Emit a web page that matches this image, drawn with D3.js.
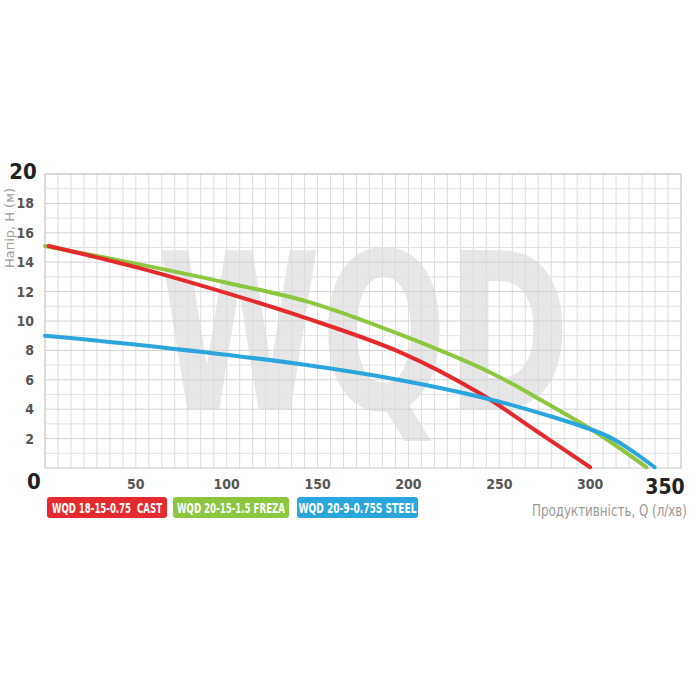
<!DOCTYPE html>
<html><head><meta charset="utf-8">
<script src="https://cdn.jsdelivr.net/npm/d3@7"></script>
<style>body{margin:0;background:#fff}svg{display:block}</style>
</head><body>
<svg id="c" width="700" height="700"></svg>
<script>
const xTicks = [50, 100, 150, 200, 250, 300];
const yTicks = [2, 4, 6, 8, 10, 12, 14, 16, 18];
const seriesNames = ["WQD 18-15-0.75  CAST", "WQD 20-15-1.5 FREZA", "WQD 20-9-0.75S STEEL"];
const seriesColors = ["#e42a2c", "#8dc63f", "#2aa6dc"];
const redQ = [2, 52, 100, 140, 195, 239, 270, 300];
const redH = [15.1, 13.6, 11.9, 10.35, 7.9, 5.1, 2.55, 0.05];
const greenQ = [0, 52, 100, 145, 195, 245, 276, 304, 331];
const greenH = [15.1, 13.85, 12.6, 11.3, 9.1, 6.5, 4.4, 2.36, 0.05];
const blueQ = [0, 52, 140, 195, 239, 276, 309, 322, 335.5];
const blueH = [9.0, 8.37, 7.07, 5.99, 4.85, 3.6, 2.2, 1.25, 0.05];

const svg = d3.select("#c");
const L = 45, R = 681, T = 174, B = 468;
const x = d3.scaleLinear().domain([0, 350]).range([L, R]);
const y = d3.scaleLinear().domain([0, 20]).range([B, T]);
const cond = "'DejaVu Sans Condensed','Liberation Sans Narrow',sans-serif";

// watermark
svg.append("text").attr("x", 157).attr("y", 409)
  .attr("font-family", "'DejaVu Sans Condensed','DejaVu Sans',sans-serif").attr("font-weight", "bold")
  .attr("font-size", 218).attr("fill", "#e7e7e7")
  .attr("textLength", 413).attr("lengthAdjust", "spacingAndGlyphs")
  .text("WQD");

// grid
const g = svg.append("g");
const vLines = d3.range(0, 50).map(i => i * 50 / 7);
g.selectAll("line.v").data(vLines).join("line")
  .attr("x1", d => x(d)).attr("x2", d => x(d)).attr("y1", T).attr("y2", B)
  .attr("stroke", "#dcdcdc").attr("stroke-width", 1);
g.selectAll("line.h").data(d3.range(1, 21)).join("line")
  .attr("x1", L).attr("x2", R).attr("y1", d => y(d)).attr("y2", d => y(d))
  .attr("stroke", d => d % 2 === 0 ? "#d2d2d2" : "#e2e2e2").attr("stroke-width", 1);
g.append("rect").attr("x", L).attr("y", T).attr("width", R - L).attr("height", B - T)
  .attr("fill", "none").attr("stroke", "#d0d0d0").attr("stroke-width", 1.2);

// axes labels
svg.selectAll("text.yt").data(yTicks).join("text")
  .attr("x", 34).attr("y", d => y(d)).attr("dy", "0.36em").attr("text-anchor", "end")
  .attr("font-family", cond).attr("font-weight", "bold").attr("font-size", 14).attr("fill", "#555")
  .text(d => d);
svg.selectAll("text.xt").data(xTicks).join("text")
  .attr("x", d => x(d)).attr("y", 489).attr("text-anchor", "middle")
  .attr("font-family", cond).attr("font-weight", "bold").attr("font-size", 14).attr("fill", "#555")
  .text(d => d);
svg.append("text").attr("x", 23).attr("y", 179).attr("text-anchor", "middle")
  .attr("font-family", cond).attr("font-weight", "bold").attr("font-size", 22).attr("fill", "#222").text("20");
svg.append("text").attr("x", 34).attr("y", 489).attr("text-anchor", "middle")
  .attr("font-family", cond).attr("font-weight", "bold").attr("font-size", 22).attr("fill", "#222").text("0");
svg.append("text").attr("x", 665).attr("y", 494).attr("text-anchor", "middle")
  .attr("font-family", cond).attr("font-weight", "bold").attr("font-size", 21).attr("fill", "#222").text("350");
svg.append("text").attr("transform", "translate(14,228) rotate(-90)").attr("text-anchor", "middle")
  .attr("font-family", cond).attr("font-size", 13).attr("fill", "#9a9a9a")
  .attr("textLength", 80).attr("lengthAdjust", "spacingAndGlyphs").text("Напір, Н (м)");
svg.append("text").attr("x", 687).attr("y", 516).attr("text-anchor", "end")
  .attr("font-family", cond).attr("font-size", 15).attr("fill", "#999")
  .attr("textLength", 155).attr("lengthAdjust", "spacingAndGlyphs").text("Продуктивність, Q (л/хв)");

// curves
const line = d3.line().x(d => x(d[0])).y(d => y(d[1])).curve(d3.curveCatmullRom.alpha(0.5));
const series = [d3.zip(redQ, redH), d3.zip(greenQ, greenH), d3.zip(blueQ, blueH)];
[1, 0, 2].forEach(i => {
  svg.append("path").datum(series[i]).attr("d", line).attr("fill", "none")
    .attr("stroke", seriesColors[i]).attr("stroke-width", 4).attr("stroke-linecap", "round");
});

// legend
const lx = [47, 173, 297], lw = [120, 116, 121], tw = [110, 108, 118];
seriesNames.forEach((n, i) => {
  svg.append("rect").attr("x", lx[i]).attr("y", 497).attr("width", lw[i]).attr("height", 21)
    .attr("rx", 3).attr("fill", seriesColors[i]);
  svg.append("text").attr("x", lx[i] + lw[i] / 2).attr("y", 512.5).attr("text-anchor", "middle")
    .attr("font-family", cond).attr("font-weight", "bold").attr("font-size", 14).attr("fill", "#fff")
    .attr("textLength", tw[i]).attr("lengthAdjust", "spacingAndGlyphs")
    .attr("xml:space", "preserve").text(n);
});
</script>
</body></html>
